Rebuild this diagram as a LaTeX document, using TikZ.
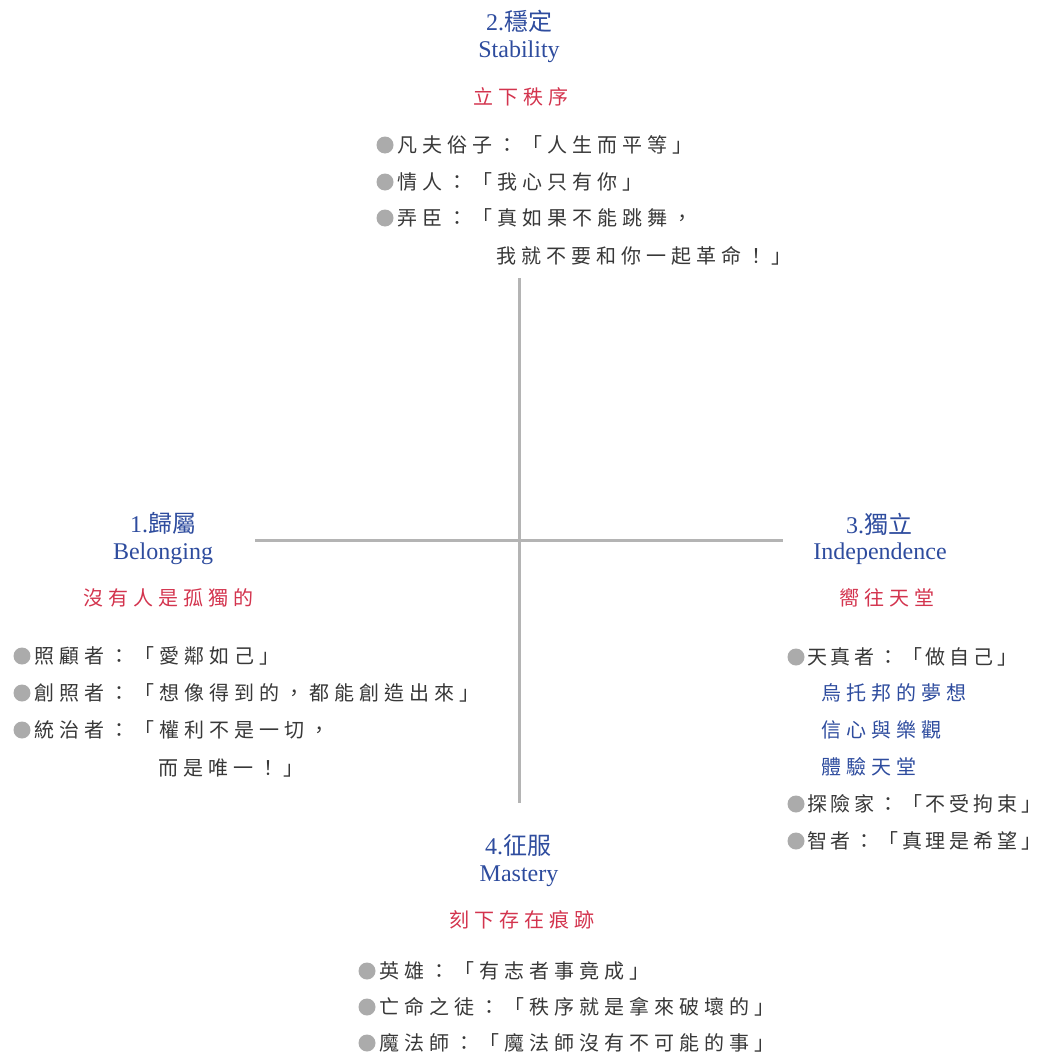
\documentclass[tikz,border=0pt]{standalone}
\usepackage{fontspec}
\setmainfont{Liberation Serif}
\newfontfamily\cjk[LetterSpace=25]{Noto Sans CJK TC}
\newfontfamily\cjkn[LetterSpace=19]{Noto Sans CJK TC}
\newfontfamily\cjkt{Noto Sans CJK TC}
\definecolor{txt}{HTML}{383838}
\definecolor{ttlblue}{HTML}{2E4C9E}
\definecolor{ttlred}{HTML}{D3344E}
\definecolor{bulgray}{HTML}{ABABAB}
\definecolor{axisgray}{HTML}{B4B4B4}
\begin{document}
\begin{tikzpicture}[x=1pt,y=-1pt,
  every node/.style={inner sep=0pt,outer sep=0pt},
  quote/.style={anchor=west,font=\cjk\fontsize{20}{24}\selectfont,text=txt},
  quoten/.style={anchor=west,font=\cjkn\fontsize{20}{24}\selectfont,text=txt},
  subq/.style={anchor=west,font=\cjk\fontsize{20}{24}\selectfont,text=ttlblue},
  redt/.style={font=\cjk\fontsize{20}{24}\selectfont,text=ttlred},
  head/.style={font=\fontsize{24}{28}\selectfont,text=ttlblue},
  bul/.style={circle,fill=bulgray,minimum size=17pt,inner sep=0pt},
  axis/.style={draw=axisgray,line width=3pt}]
\useasboundingbox (0,0) rectangle (1049,1057);

% axes
\coordinate (vtop) at (519,278);
\coordinate (vbot) at (519,803);
\coordinate (hl) at (255,540);
\coordinate (hr) at (783,540);
\draw[axis] (vtop) -- (vbot);
\draw[axis] (hl) -- (hr);

% 2. Stability (top)
\node[head] (t2n) at (519,21) {2.{\cjkt 穩定}};
\node[head] (t2e) at (519,52) {Stability};
\node[redt] (t2r) at (521,97) {立下秩序};
\node[bul] (b2a) at (385,145) {};
\node[quote] (q2a) at (397,145) {凡夫俗子：「人生而平等」};
\node[bul] (b2b) at (385,182) {};
\node[quote] (q2b) at (397,182) {情人：「我心只有你」};
\node[bul] (b2c) at (385,218) {};
\node[quote] (q2c) at (397,218) {弄臣：「真如果不能跳舞，};
\node[quote] (q2d) at (496,256) {我就不要和你一起革命！」};

% 1. Belonging (left)
\node[head] (t1n) at (163,523) {1.{\cjkt 歸屬}};
\node[head] (t1e) at (163,554) {Belonging};
\node[redt] (t1r) at (168,598) {沒有人是孤獨的};
\node[bul] (b1a) at (22,656) {};
\node[quote] (q1a) at (34,656) {照顧者：「愛鄰如己」};
\node[bul] (b1b) at (22,693) {};
\node[quote] (q1b) at (34,693) {創照者：「想像得到的，都能創造出來」};
\node[bul] (b1c) at (22,730) {};
\node[quote] (q1c) at (34,730) {統治者：「權利不是一切，};
\node[quote] (q1d) at (158,768) {而是唯一！」};

% 3. Independence (right)
\node[head] (t3n) at (879,524) {3.{\cjkt 獨立}};
\node[head] (t3e) at (880,554) {Independence};
\node[redt] (t3r) at (887,598) {嚮往天堂};
\node[bul] (b3a) at (796,657) {};
\node[quoten] (q3a) at (807,657) {天真者：「做自己」};
\node[subq] (s3a) at (821,693) {烏托邦的夢想};
\node[subq] (s3b) at (821,730) {信心與樂觀};
\node[subq] (s3c) at (821,767) {體驗天堂};
\node[bul] (b3b) at (796,804) {};
\node[quoten] (q3b) at (807,804) {探險家：「不受拘束」};
\node[bul] (b3c) at (796,841) {};
\node[quoten] (q3c) at (807,841) {智者：「真理是希望」};

% 4. Mastery (bottom)
\node[head] (t4n) at (518,845) {4.{\cjkt 征服}};
\node[head] (t4e) at (519,876) {Mastery};
\node[redt] (t4r) at (522,920) {刻下存在痕跡};
\node[bul] (b4a) at (367,971) {};
\node[quote] (q4a) at (379,971) {英雄：「有志者事竟成」};
\node[bul] (b4b) at (367,1007) {};
\node[quote] (q4b) at (379,1007) {亡命之徒：「秩序就是拿來破壞的」};
\node[bul] (b4c) at (367,1043) {};
\node[quote] (q4c) at (379,1043) {魔法師：「魔法師沒有不可能的事」};
\end{tikzpicture}
\end{document}
